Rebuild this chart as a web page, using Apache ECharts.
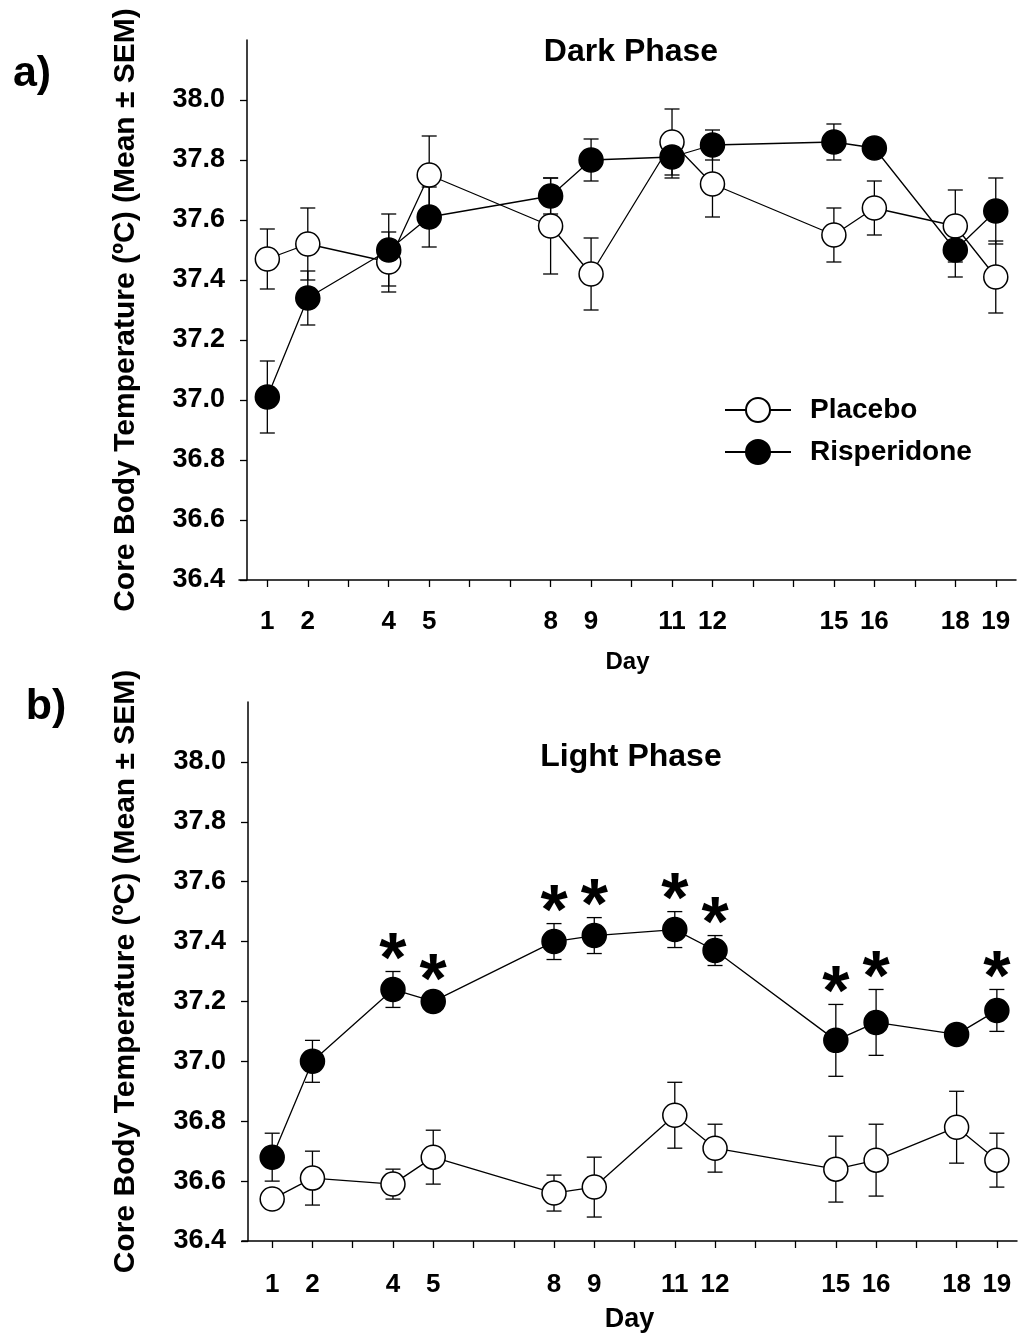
<!DOCTYPE html>
<html lang="en">

<head>
  <meta charset="UTF-8">
  <title>Core Body Temperature</title>
  <style>
    body { margin: 0; background: #fff; }
  </style>
</head>

<body>
  <div id="main" style="width:1020px;height:1334px;"></div>

  <script src="https://cdn.jsdelivr.net/npm/echarts@6/dist/echarts.min.js"></script>
  <script>
    // days measured, and ticks on the x axis
    const days = [1, 2, 4, 5, 8, 9, 11, 12, 15, 16, 18, 19]
    const tickDays = [1, 2, 3, 4, 5, 6, 7, 8, 9, 10, 11, 12, 13, 14, 15, 16, 17, 18, 19]
    const yTicks = [36.4, 36.6, 36.8, 37.0, 37.2, 37.4, 37.6, 37.8, 38.0]

    // a) dark phase
    const placeboDarkMean = [37.47, 37.52, 37.46, 37.75, 37.58, 37.42, 37.86, 37.72, 37.55, 37.64, 37.58, 37.41]
    const placeboDarkSem = [0.10, 0.12, 0.10, 0.13, 0.16, 0.12, 0.11, 0.11, 0.09, 0.09, 0.12, 0.12]
    const risDarkMean = [37.01, 37.34, 37.50, 37.61, 37.68, 37.80, 37.81, 37.85, 37.86, 37.84, 37.50, 37.63]
    const risDarkSem = [0.12, 0.09, 0.12, 0.10, 0.06, 0.07, 0.07, 0.05, 0.06, 0.02, 0.09, 0.11]

    // b) light phase
    const placeboLightMean = [36.54, 36.61, 36.59, 36.68, 36.56, 36.58, 36.82, 36.71, 36.64, 36.67, 36.78, 36.67]
    const placeboLightSem = [0.02, 0.09, 0.05, 0.09, 0.06, 0.10, 0.11, 0.08, 0.11, 0.12, 0.12, 0.09]
    const risLightMean = [36.68, 37.00, 37.24, 37.20, 37.40, 37.42, 37.44, 37.37, 37.07, 37.13, 37.09, 37.17]
    const risLightSem = [0.08, 0.07, 0.06, 0.03, 0.06, 0.06, 0.06, 0.05, 0.12, 0.11, 0.02, 0.07]
    // significant days (asterisks)
    const starDays = [4, 5, 8, 9, 11, 12, 15, 16, 19]

    const FONT = 'Liberation Sans, Arial, sans-serif'
    const chart = echarts.init(document.getElementById('main'))

    function pairs(mean) {
      return days.map((d, i) => [d, mean[i]])
    }

    function renderErr(params, api) {
      const x = api.value(0)
      const lo = api.coord([x, api.value(1)])
      const hi = api.coord([x, api.value(2)])
      const w = 7.5
      const st = { stroke: '#000', lineWidth: 1.3 }
      return {
        type: 'group',
        children: [
          { type: 'line', shape: { x1: lo[0], y1: lo[1], x2: hi[0], y2: hi[1] }, style: st },
          { type: 'line', shape: { x1: hi[0] - w, y1: hi[1], x2: hi[0] + w, y2: hi[1] }, style: st },
          { type: 'line', shape: { x1: lo[0] - w, y1: lo[1], x2: lo[0] + w, y2: lo[1] }, style: st }
        ]
      }
    }

    function errSeries(idx, mean, sem) {
      return {
        type: 'custom',
        xAxisIndex: idx,
        yAxisIndex: idx,
        renderItem: renderErr,
        encode: { x: 0, y: [1, 2] },
        data: days.map((d, i) => [d, mean[i] - sem[i], mean[i] + sem[i]]),
        z: 1,
        silent: true
      }
    }

    function lineSeries(name, idx, mean, fill, z) {
      return {
        name: name,
        type: 'line',
        xAxisIndex: idx,
        yAxisIndex: idx,
        data: pairs(mean),
        symbol: 'circle',
        symbolSize: 24,
        showAllSymbol: true,
        lineStyle: { color: '#000', width: 1.3 },
        itemStyle: { color: fill, borderColor: '#000', borderWidth: 1.5 },
        z: z
      }
    }

    function xAxis(idx, min, nameSize, labelMargin, nameGap) {
      return {
        type: 'value',
        gridIndex: idx,
        min: min,
        max: 19.5,
        name: 'Day',
        nameLocation: 'middle',
        nameGap: nameGap,
        nameTextStyle: { fontFamily: FONT, fontWeight: 'bold', fontSize: nameSize, color: '#000' },
        axisLine: { show: true, onZero: false, lineStyle: { color: '#000', width: 1.5 } },
        axisTick: { show: true, length: 7, customValues: tickDays, lineStyle: { color: '#000', width: 1.3 } },
        axisLabel: {
          customValues: days,
          margin: labelMargin,
          fontFamily: FONT, fontWeight: 'bold', fontSize: 26, color: '#000'
        },
        splitLine: { show: false }
      }
    }

    function yAxis(idx, offset, nameGap) {
      return {
        type: 'value',
        gridIndex: idx,
        min: 36.4,
        max: 38.2,
        offset: offset,
        name: 'Core Body Temperature (ºC) (Mean ± SEM)',
        nameLocation: 'middle',
        nameGap: nameGap,
        nameTextStyle: { fontFamily: FONT, fontWeight: 'bold', fontSize: 30, color: '#000' },
        axisLine: { show: true, lineStyle: { color: '#000', width: 1.5 } },
        axisTick: { show: true, length: 7, customValues: yTicks, lineStyle: { color: '#000', width: 1.3 } },
        axisLabel: {
          customValues: yTicks,
          margin: 22,
          formatter: v => v.toFixed(1),
          fontFamily: FONT, fontWeight: 'bold', fontSize: 27, color: '#000'
        },
        splitLine: { show: false }
      }
    }

    const starData = starDays.map(d => {
      const i = days.indexOf(d)
      return [d, risLightMean[i] + risLightSem[i]]
    })

    const option = {
      backgroundColor: '#fff',
      animation: false,
      grid: [
        { left: 239, right: 4, top: 40, height: 540 },
        { left: 242, right: 3, top: 702, height: 539 }
      ],
      xAxis: [xAxis(0, 0.3, 24, 29, 70), xAxis(1, 0.25, 27, 31, 65)],
      yAxis: [yAxis(0, -8, 106), yAxis(1, -6, 107)],
      legend: {
        data: ['Placebo', 'Risperidone'],
        orient: 'vertical',
        left: 724,
        top: 396,
        padding: 0,
        itemWidth: 66,
        itemHeight: 30,
        itemGap: 14,
        selectedMode: false,
        textStyle: { fontFamily: FONT, fontWeight: 'bold', fontSize: 28, color: '#000', padding: [0, 0, 0, 14] }
      },
      graphic: [
        { type: 'text', x: 32, y: 74, style: { text: 'a)', fontFamily: FONT, fontWeight: 'bold', fontSize: 43, fill: '#000', align: 'center', verticalAlign: 'middle' } },
        { type: 'text', x: 46, y: 707, style: { text: 'b)', fontFamily: FONT, fontWeight: 'bold', fontSize: 43, fill: '#000', align: 'center', verticalAlign: 'middle' } },
        { type: 'text', x: 631, y: 52, style: { text: 'Dark Phase', fontFamily: FONT, fontWeight: 'bold', fontSize: 32, fill: '#000', align: 'center', verticalAlign: 'middle' } },
        { type: 'text', x: 631, y: 757, style: { text: 'Light Phase', fontFamily: FONT, fontWeight: 'bold', fontSize: 32, fill: '#000', align: 'center', verticalAlign: 'middle' } }
      ],
      series: [
        errSeries(0, placeboDarkMean, placeboDarkSem),
        errSeries(0, risDarkMean, risDarkSem),
        lineSeries('Placebo', 0, placeboDarkMean, '#fff', 3),
        lineSeries('Risperidone', 0, risDarkMean, '#000', 4),
        errSeries(1, placeboLightMean, placeboLightSem),
        errSeries(1, risLightMean, risLightSem),
        lineSeries('Placebo', 1, placeboLightMean, '#fff', 3),
        lineSeries('Risperidone', 1, risLightMean, '#000', 4),
        {
          type: 'custom',
          xAxisIndex: 1,
          yAxisIndex: 1,
          silent: true,
          data: starData,
          renderItem: function (params, api) {
            const p = api.coord([api.value(0), api.value(1)])
            return {
              type: 'text',
              x: p[0],
              y: p[1] - 9,
              style: { text: '*', fontFamily: FONT, fontWeight: 'bold', fontSize: 70, fill: '#000', align: 'center', verticalAlign: 'middle' }
            }
          },
          z: 5
        }
      ]
    }

    chart.setOption(option)
  </script>

</body>

</html>
